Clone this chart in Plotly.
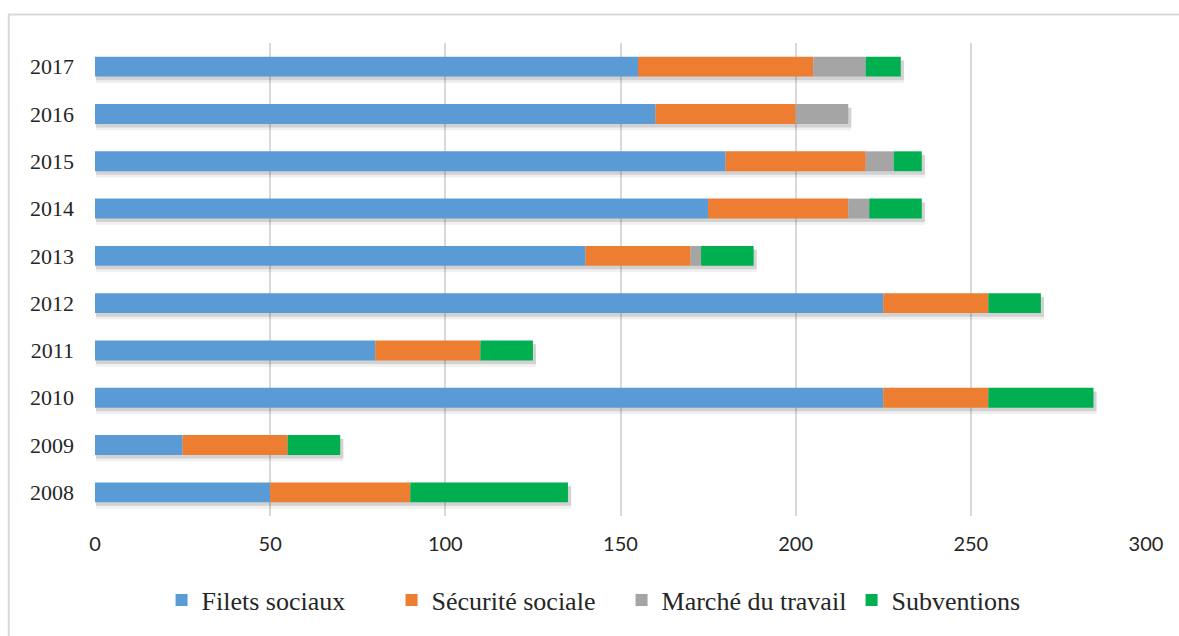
import numpy as np
import plotly.graph_objects as go

years = ["2008", "2009", "2010", "2011", "2012", "2013", "2014", "2015", "2016", "2017"]
filets_sociaux = [50, 25, 225, 80, 225, 140, 175, 180, 160, 155]
securite_sociale = [40, 30, 30, 30, 30, 30, 40, 40, 40, 50]
marche_travail = [0, 0, 0, 0, 0, 3, 6, 8, 15, 15]
subventions = [45, 15, 30, 15, 15, 15, 15, 8, 0, 10]

series = [
    ("Filets sociaux", filets_sociaux, "#5B9BD5"),
    ("Sécurité sociale", securite_sociale, "#ED7D31"),
    ("Marché du travail", marche_travail, "#A5A5A5"),
    ("Subventions", subventions, "#00B050"),
]

serif = "Liberation Serif"
sans = "Lato"
bar_w = 0.42

fig = go.Figure()

# soft drop shadow under each stacked bar
totals = np.sum([s[1] for s in series], axis=0)
for shift, alpha, grow in [(0.11, 0.06, 0.05), (0.075, 0.12, 0.0)]:
    fig.add_trace(go.Bar(
        y=years, x=totals + 0.6, base=0.3, orientation="h",
        width=bar_w + grow, offset=-(bar_w + grow) / 2 - shift,
        marker=dict(color=f"rgba(0,0,0,{alpha})", line=dict(width=0)),
        showlegend=False, hoverinfo="skip",
    ))

cum = np.zeros(len(years))
for name, vals, color in series:
    vals = np.array(vals, dtype=float)
    fig.add_trace(go.Bar(
        y=years, x=vals, base=cum.copy(), orientation="h", name=name,
        width=bar_w, offset=-bar_w / 2,
        marker=dict(color=color, line=dict(width=0)),
    ))
    cum += vals

fig.update_layout(
    width=1179, height=636,
    barmode="overlay",
    paper_bgcolor="white", plot_bgcolor="white",
    margin=dict(l=95, r=33, t=43, b=114),
    font=dict(family=serif, size=22, color="#262626"),
    xaxis=dict(
        range=[0, 300], tickvals=[0, 50, 100, 150, 200, 250, 300],
        showgrid=True, gridcolor="#D9D9D9", gridwidth=1.5,
        zeroline=False, showline=False, ticks="",
        tickfont=dict(size=20, family=sans, color="#262626"),
        ticklabelstandoff=14,
    ),
    yaxis=dict(
        type="category", categoryorder="array", categoryarray=years,
        range=[-0.5, 9.5],
        showgrid=False, zeroline=False, showline=False, ticks="",
        tickfont=dict(size=22, family=serif, color="#262626"),
        ticklabelstandoff=20,
    ),
    legend=dict(
        orientation="h", x=0.501, xanchor="center", y=-0.128, yanchor="top",
        font=dict(size=26, family=serif, color="#262626"),
        itemwidth=30, traceorder="normal",
        entrywidth=185, entrywidthmode="pixels",
    ),
    shapes=[dict(
        type="rect", xref="paper", yref="paper",
        x0=-0.082, x1=1.2, y0=-0.4, y1=1.0605,
        line=dict(color="#D9D9D9", width=2), fillcolor="rgba(0,0,0,0)",
        layer="below",
    )],
)

fig.write_html("out.html")
